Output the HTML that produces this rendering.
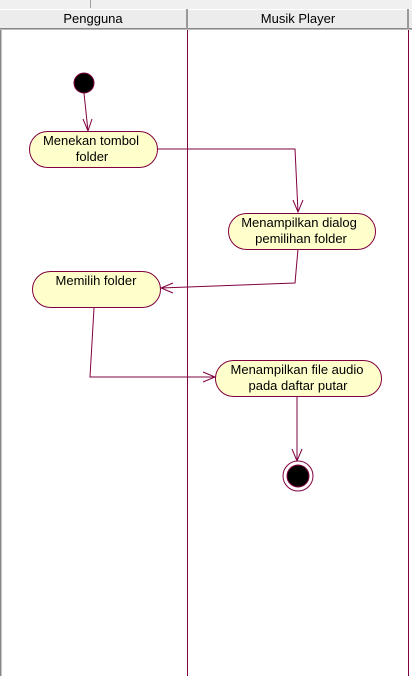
<!DOCTYPE html>
<html><head><meta charset="utf-8"><style>
html,body{margin:0;padding:0;background:#fff;}
svg{display:block;}
text{font-family:"Liberation Sans",Arial,sans-serif;font-size:13px;fill:#000;}
</style></head><body>
<svg width="412" height="676" viewBox="0 0 412 676" xmlns="http://www.w3.org/2000/svg">
<rect x="0" y="0" width="412" height="9" fill="#f0f0f0"/>
<line x1="90.5" y1="0" x2="90.5" y2="8" stroke="#a0a0a0"/>
<rect x="0" y="9" width="412" height="20" fill="#ececec"/>
<line x1="0" y1="9.5" x2="412" y2="9.5" stroke="#fff"/>
<line x1="0" y1="28.5" x2="412" y2="28.5" stroke="#888"/>
<line x1="0" y1="29.5" x2="412" y2="29.5" stroke="#bbb"/>
<line x1="187" y1="9" x2="187" y2="29" stroke="#999" stroke-width="2"/>
<line x1="408" y1="9" x2="408" y2="29" stroke="#999" stroke-width="2"/>
<text x="93" y="23" text-anchor="middle">Pengguna</text>
<text x="298" y="23" text-anchor="middle">Musik Player</text>
<line x1="0.5" y1="30" x2="0.5" y2="676" stroke="#888" stroke-width="2"/>
<line x1="187.5" y1="30" x2="187.5" y2="676" stroke="#800040"/>
<line x1="408.5" y1="30" x2="408.5" y2="676" stroke="#800040"/>
<g stroke="#800040" fill="none">
<polyline points="84,93 88,131"/>
<polyline points="83,119 88,131 92,119"/>
<polyline points="157,149 295,149 298,212"/>
<polyline points="293,200 298,212 303,200"/>
<polyline points="298,249 295,283 161,288"/>
<polyline points="173,283 161,288 173,293"/>
<polyline points="94,308 90,377 215,377"/>
<polyline points="203,372 215,377 203,382"/>
<polyline points="297,396 297,461"/>
<polyline points="292,449 297,461 302,449"/>
</g>
<circle cx="84" cy="83" r="10" fill="#000" stroke="#800040"/>
<g fill="#ffffcc" stroke="#800040">
<rect x="29.5" y="131.5" width="128" height="36" rx="18"/>
<rect x="228.5" y="213.5" width="147" height="36" rx="18"/>
<rect x="32.5" y="271.5" width="128" height="36" rx="18"/>
<rect x="215.5" y="360.5" width="166" height="36" rx="18"/>
</g>
<text x="91" y="145" text-anchor="middle">Menekan tombol</text>
<text x="92" y="161" text-anchor="middle">folder</text>
<text x="299" y="227" text-anchor="middle">Menampilkan dialog</text>
<text x="301" y="243" text-anchor="middle">pemilihan folder</text>
<text x="96" y="285" text-anchor="middle">Memilih folder</text>
<text x="297" y="374" text-anchor="middle">Menampilkan file audio</text>
<text x="298" y="390" text-anchor="middle">pada daftar putar</text>
<circle cx="298" cy="476" r="15" fill="#fff" stroke="#800040"/>
<circle cx="298" cy="476" r="11" fill="#000" stroke="#800040"/>
</svg>
</body></html>
